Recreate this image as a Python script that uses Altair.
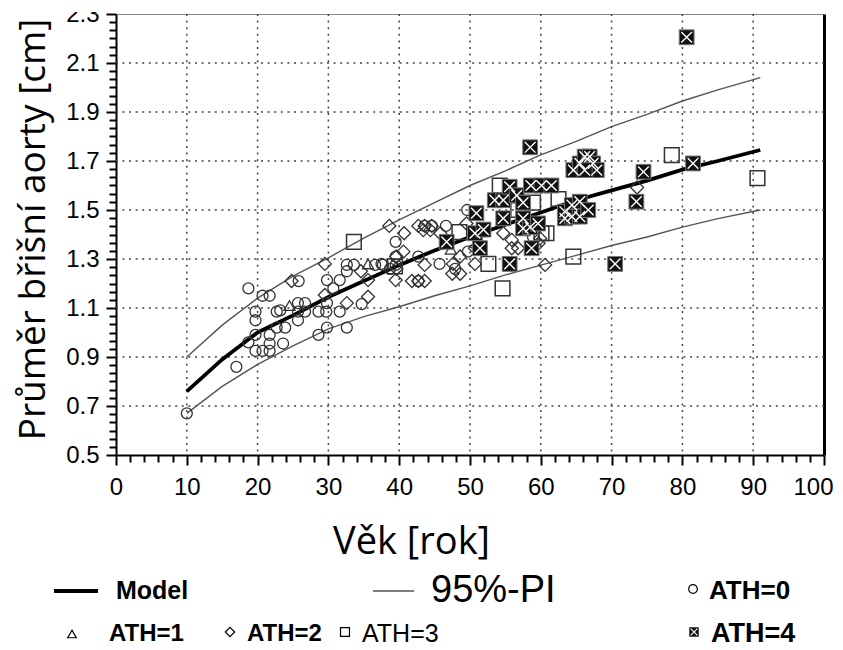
import altair as alt
import pandas as pd

# ---------------- data ----------------
curve_age = [10, 15, 20, 25, 30, 35, 40, 45, 50, 55, 60, 65, 70, 75, 80, 85, 91]
model = [0.76, 0.89, 1.00, 1.07, 1.145, 1.21, 1.275, 1.335, 1.39, 1.44, 1.49, 1.54, 1.58, 1.62, 1.665, 1.70, 1.745]
pi_upper = [0.90, 1.03, 1.14, 1.23, 1.305, 1.385, 1.46, 1.53, 1.60, 1.66, 1.725, 1.78, 1.84, 1.89, 1.945, 1.99, 2.04]
pi_lower = [0.67, 0.78, 0.87, 0.945, 1.015, 1.065, 1.105, 1.15, 1.19, 1.235, 1.275, 1.315, 1.355, 1.39, 1.43, 1.465, 1.50]

ath0 = [(10, 0.67), (17, 0.86), (18.7, 1.18), (20.7, 1.15), (21.7, 1.15), (19.7, 1.085), (19.7, 1.05),
        (22.7, 1.085), (19.7, 0.99), (18.7, 0.96), (21.7, 0.99), (21.7, 0.955), (22.7, 1.02), (23.6, 0.955),
        (19.7, 0.925), (20.7, 0.925), (21.7, 0.925), (23.2, 1.09), (23.9, 1.02), (25.8, 1.21), (25.7, 1.12),
        (26.7, 1.12), (25.7, 1.085), (26.7, 1.085), (25.7, 1.05), (28.6, 1.085), (29.7, 1.085), (28.6, 0.99),
        (29.8, 1.02), (32.6, 1.02), (29.8, 1.214), (31.6, 1.214), (29.8, 1.12), (30.7, 1.18), (31.6, 1.085),
        (32.6, 1.276), (33.6, 1.276), (32.6, 1.25), (34.7, 1.116), (36.6, 1.276), (37.7, 1.276), (37.5, 1.28),
        (39.5, 1.37), (39.5, 1.276), (39.5, 1.31), (38.7, 1.26), (42.7, 1.31), (45.7, 1.28), (43.6, 1.435),
        (44.6, 1.435), (46.6, 1.435), (49.6, 1.50), (42.7, 1.21), (47.9, 1.26), (49.7, 1.33), (59.4, 1.43),
        (58.9, 1.39)]
ath1 = [(24.5, 1.11), (35.6, 1.28), (47.3, 1.34)]
ath2 = [(24.8, 1.21), (29.5, 1.28), (29.5, 1.153), (32.6, 1.12), (34.6, 1.25), (35.6, 1.146), (35.6, 1.214),
        (38.6, 1.435), (39.5, 1.214), (39.6, 1.31), (39.6, 1.26), (40.6, 1.33), (40.7, 1.405), (42.7, 1.435),
        (43.6, 1.435), (44.6, 1.435), (43.4, 1.418), (44.4, 1.418), (45.8, 1.405), (49.5, 1.445), (43.6, 1.276),
        (47.6, 1.28), (48.6, 1.31), (47.5, 1.24), (48.6, 1.24), (50.7, 1.28), (50.7, 1.344), (41.8, 1.21),
        (42.7, 1.21), (43.6, 1.21), (54.7, 1.405), (55.9, 1.378), (56.8, 1.344), (55.9, 1.344), (59.9, 1.384),
        (59.7, 1.364), (60.6, 1.276), (73.6, 1.592)]
ath3 = [(33.6, 1.37), (39.4, 1.27), (48.5, 1.41), (52.6, 1.28), (54.6, 1.18), (54.2, 1.60), (56.8, 1.50),
        (58.9, 1.53), (60.1, 1.405), (60.8, 1.405), (62.5, 1.545), (64.6, 1.31), (78.5, 1.724), (90.6, 1.63)]
ath4 = [(46.7, 1.37), (50.7, 1.405), (50.9, 1.487), (51.4, 1.344), (51.9, 1.42), (53.5, 1.54), (54.7, 1.54),
        (54.7, 1.466), (55.6, 1.595), (55.6, 1.28), (56.6, 1.56), (57.5, 1.53), (57.5, 1.466), (57.5, 1.425),
        (58.5, 1.756), (58.6, 1.60), (58.5, 1.43), (58.7, 1.344), (59.6, 1.445), (60.1, 1.60), (61.5, 1.60),
        (63.4, 1.466), (63.4, 1.493), (64.4, 1.52), (64.4, 1.473), (65.5, 1.534), (65.5, 1.473), (66.7, 1.50),
        (64.6, 1.663), (65.5, 1.69), (66.2, 1.718), (66.9, 1.718), (67.4, 1.69), (67.9, 1.663), (66.2, 1.663),
        (70.5, 1.28), (73.5, 1.534), (74.5, 1.656), (80.6, 2.205), (81.5, 1.69)]

x_major = list(range(0, 101, 10))
x_minor = [v for v in range(0, 101, 2) if v % 10 != 0]
y_major = [0.5, 0.7, 0.9, 1.1, 1.3, 1.5, 1.7, 1.9, 2.1, 2.3]
y_minor = [round(0.5 + i * 0.2 / 6, 4) for i in range(55) if i % 6 != 0]
x_grid = [10, 20, 30, 40, 50, 60, 70, 80, 90]
y_grid = [0.7, 0.9, 1.1, 1.3, 1.5, 1.7, 1.9, 2.1]

# ---------------- styling ----------------
W, H = 708, 441
xs = alt.Scale(domain=[0, 100], nice=False, zero=False)
ys = alt.Scale(domain=[0.5, 2.3], nice=False, zero=False)
TICKFONT = "Liberation Sans"
TITLEFONT = "Open Sans"
LEGFONT = "Liberation Sans"
MK = "#333333"
XCROSS = "M-0.72,-0.72L0.72,0.72M-0.72,0.72L0.72,-0.72"

curves = pd.DataFrame({"age": curve_age, "model": model, "upper": pi_upper, "lower": pi_lower})

x_major_axis = alt.Axis(values=x_major, format="d", orient="bottom", title="Věk [rok]", grid=False,
                        domainColor="black", domainWidth=2, tickColor="black", tickWidth=2, tickSize=10,
                        labelFont=TICKFONT, labelFontSize=24, labelColor="black", labelPadding=10,
                        labelFlush=False,
                        labelAlign={"condition": {"test": "datum.value == 100", "value": "right"},
                                    "value": "center"},
                        labelOffset={"condition": {"test": "datum.value == 100", "value": 9},
                                     "value": 0},
                        titleFont=TITLEFONT, titleFontSize=38, titleFontWeight="normal",
                        titleColor="black", titleX=295, titleY=98, titleBaseline="alphabetic",
                        titleAlign="center")
y_major_axis = alt.Axis(values=y_major, format=".1f", orient="left", title="Průměr břišní aorty [cm]",
                        grid=False, domainColor="black", domainWidth=2, tickColor="black", tickWidth=2,
                        tickSize=10, labelFont=TICKFONT, labelFontSize=24, labelColor="black",
                        labelPadding=7, labelFlush=False, titleFont=TITLEFONT, titleFontSize=37,
                        titleFontWeight="normal", titleColor="black", titleX=-72, titleY=215,
                        titleBaseline="alphabetic", titleAlign="center")
x_minor_axis = alt.Axis(values=x_minor, orient="bottom", labels=False, grid=False, domain=False,
                        tickColor="black", tickWidth=2, tickSize=7, title=None)
y_minor_axis = alt.Axis(values=y_minor, orient="left", labels=False, grid=False, domain=False,
                        tickColor="black", tickWidth=2, tickSize=7, title=None)
right_axis = alt.Axis(orient="right", labels=False, ticks=False, grid=False, domain=True,
                      domainColor="black", domainWidth=3, title=None)
top_axis = alt.Axis(orient="top", labels=False, ticks=False, grid=False, domain=True,
                    domainColor="#888888", domainWidth=1, title=None)

# dotted grid through the scales
grid_x = alt.Chart(pd.DataFrame({"g": x_grid})).mark_rule(
    color="#444444", strokeWidth=1.5, strokeDash=[2, 4.6]).encode(
    x=alt.X("g:Q", scale=xs, axis=None))
grid_y = alt.Chart(pd.DataFrame({"g": y_grid})).mark_rule(
    color="#444444", strokeWidth=1.5, strokeDash=[2, 4.6]).encode(
    y=alt.Y("g:Q", scale=ys, axis=None))

base = alt.Chart(curves)
model_line = base.mark_line(color="black", strokeWidth=3.8).encode(
    x=alt.X("age:Q", scale=xs, axis=x_major_axis),
    y=alt.Y("model:Q", scale=ys, axis=y_major_axis))
upper_line = base.mark_line(color="#555555", strokeWidth=1.4).encode(
    x=alt.X("age:Q", scale=xs, axis=x_minor_axis),
    y=alt.Y("upper:Q", scale=ys, axis=y_minor_axis))
lower_line = base.mark_line(color="#555555", strokeWidth=1.4).encode(
    x=alt.X("age:Q", scale=xs, axis=top_axis),
    y=alt.Y("lower:Q", scale=ys, axis=right_axis))


def pts(data, **mark):
    df = pd.DataFrame(data, columns=["age", "d"])
    return alt.Chart(df).mark_point(**mark).encode(
        x=alt.X("age:Q", scale=xs, axis=None),
        y=alt.Y("d:Q", scale=ys, axis=None))


p0 = pts(ath0, shape="circle", size=120, filled=False, stroke=MK, strokeWidth=1.3, opacity=1)
p1 = pts(ath1, shape="triangle-up", size=125, filled=False, stroke=MK, strokeWidth=1.3, opacity=1)
p2 = pts(ath2, shape="diamond", size=170, filled=False, stroke=MK, strokeWidth=1.3, opacity=1)
p3 = pts(ath3, shape="square", size=215, filled=False, stroke=MK, strokeWidth=1.5, opacity=1)
p4a = pts(ath4, shape="square", size=220, filled=True, color="#111111", stroke="#777777", strokeWidth=1, opacity=1)
p4b = pts(ath4, shape=XCROSS, size=220, filled=False, stroke="white", strokeWidth=1.4, opacity=1)

# ---------------- legend (drawn below the plot) ----------------
one = pd.DataFrame({"k": [0]})
R1, R2 = 577, 620


def leg_text(txt, x, y, size, weight="bold"):
    return alt.Chart(one).mark_text(text=txt, align="left", baseline="middle", font=LEGFONT,
                                    fontSize=size, fontWeight=weight, color="black").encode(
        x=alt.value(x), y=alt.value(y))


def leg_sym(x, y, **mark):
    return alt.Chart(one).mark_point(opacity=1, **mark).encode(x=alt.value(x), y=alt.value(y))


def leg_line(x1, x2, y, color, width):
    return alt.Chart(one).mark_rule(color=color, strokeWidth=width).encode(
        x=alt.value(x1), x2=alt.value(x2), y=alt.value(y))


legend = [
    leg_line(-62, -18, R1, "black", 4), leg_text("Model", 0, R1, 25),
    leg_line(257, 298, R1, "#555555", 1.5), leg_text("95%-PI", 315, R1, 38, "normal"),
    leg_sym(577, R1 - 2, shape="circle", size=75, filled=False, stroke="black", strokeWidth=1.2),
    leg_text("ATH=0", 593, R1, 26),
    leg_sym(-44, R2, shape="triangle-up", size=75, filled=False, stroke="black", strokeWidth=1.2),
    leg_text("ATH=1", -7, R2, 24),
    leg_sym(114, R2 - 2, shape="diamond", size=85, filled=False, stroke="black", strokeWidth=1.2),
    leg_text("ATH=2", 131, R2, 24),
    leg_sym(229, R2 - 2, shape="square", size=80, filled=False, stroke="black", strokeWidth=1.2),
    leg_text("ATH=3", 246, R2, 25, "normal"),
    leg_sym(578, R2 - 2, shape="square", size=90, filled=True, color="#111111"),
    leg_sym(578, R2 - 2, shape=XCROSS, size=90, filled=False, stroke="white", strokeWidth=1.1),
    leg_text("ATH=4", 595, R2, 27),
]

# the reference image is cropped just above the plot frame
top_crop = alt.Chart(one).mark_rect(color="white").encode(
    x=alt.value(-116), x2=alt.value(727), y=alt.value(-14), y2=alt.value(-2))

chart = alt.layer(
    grid_x, grid_y, model_line, upper_line, lower_line, p0, p1, p2, p3, p4a, p4b, top_crop, *legend
).resolve_axis(x="independent", y="independent").properties(
    width=W, height=H,
    padding={"left": 116, "top": 14, "right": 19, "bottom": 195},
    autosize=alt.AutoSizeParams(type="none"),
    background="white",
).configure_view(stroke=None)

chart.save("out.html", embed_options={"renderer": "svg", "actions": False})
